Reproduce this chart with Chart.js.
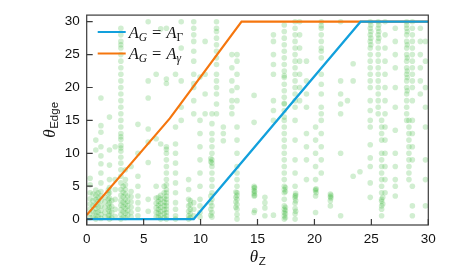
<!DOCTYPE html>
<html>
<head>
<meta charset="utf-8">
<script src="https://cdn.jsdelivr.net/npm/chart.js@4.4.1/dist/chart.umd.min.js"></script>
<style>
  html, body { margin: 0; padding: 0; background: #fff; }
  #wrap { width: 474px; height: 273px; }
</style>
</head>
<body>
<div id="wrap"><canvas id="chart" width="474" height="273"></canvas></div>
<script>
// tick labels
const xTicks = [0, 5, 10, 15, 20, 25, 30];
const yTicks = [0, 5, 10, 15, 20, 25, 30];

// A_G = A_Gamma (blue) and A_G = A_gamma (orange)
const blueX = [0, 9.4, 24.05, 30];
const blueY = [0, 0, 30, 30];
const orangeX = [0, 7.3, 13.6, 30];
const orangeY = [0.6, 15.3, 30, 30];

// green samples, grouped in vertical columns (x of column, then its y values)
const dotColumnX = [0.3, 0.8, 1.25, 1.6, 2.0, 2.5, 3.0, 3.4, 3.9, 4.5, 5.4, 6.1, 6.5, 7.0, 7.8, 8.3,
  8.95, 9.4, 9.95, 10.4, 11.0, 11.4, 12.0, 12.75, 13.2, 14.7, 15.65, 16.4, 17.35, 18.3, 18.7, 19.3,
  20.1, 20.6, 21.4, 22.3, 22.9, 23.4, 24.0, 24.9, 25.6, 25.9, 26.2, 27.1, 28.1, 28.3, 28.6, 29.3, 29.75];
const dotColumnY = [
  [0.2, 0.8, 1.5, 2.3, 3.1, 4.0, 5.2, 6.2],
  [0, 0.5, 1, 1.6, 2.2, 3, 3.6, 4.4, 10.5, 12],
  [0.1, 0.7, 1.3, 2, 2.8, 3.5, 4.2, 5.5, 7, 8.4, 9.6, 11, 13.2, 14.2, 18.4],
  [0.3, 1, 1.8, 2.6, 3.3],
  [0, 0.6, 1.2, 1.8, 2.5, 3.2, 4, 4.8, 6, 8.2, 10.5, 15.5],
  [0.4, 1.5, 3, 4.5, 6, 11],
  [0, 0.7, 1.4, 2.1, 2.8, 3.6, 4.5, 5.5, 6.5, 7.5, 8.5, 9.4, 10.3, 10.8, 11.2, 12.1, 12.5, 13, 14, 15,
   16, 17, 18, 19, 20, 21, 22, 23, 24, 25, 26, 26.5, 27, 28, 29],
  [0.2, 0.9, 1.6, 2.3, 3, 3.8, 4.5, 5.2, 6, 7.5],
  [0.3, 1, 1.8, 2.6, 3.4, 4.2, 8],
  [0.5, 1.5, 2.5, 3.5, 5, 6.5, 10, 14.4],
  [1.2, 3, 8.6, 11.7, 13.7, 18.4, 21, 30],
  [0.3, 1, 1.7, 2.4, 3.2, 5, 12.2, 22],
  [0, 0.6, 1.2, 1.8, 2.4, 3, 3.6, 11.4, 28.9],
  [0, 0.5, 1, 1.5, 2, 2.5, 3, 3.5, 4, 4.5, 5.2, 6, 7, 8, 9, 10, 10.6, 11, 20.6, 21.3, 29],
  [0, 0.5, 1.5, 2.5, 4, 5.5, 7, 8.5, 10, 11.4, 14, 22],
  [15, 17, 21, 26, 30],
  [0, 0.5, 1.2, 2, 3, 4.5, 6],
  [0.5, 1.5, 2.5, 16, 18, 20, 20.6, 22, 24, 25.5, 27, 28, 29, 30],
  [0.3, 1, 2, 3, 5, 7, 9, 11, 13, 15, 21.6],
  [16, 19, 22, 27],
  [0.3, 1, 2, 3, 4, 5, 6, 7, 8, 8.5, 9, 10, 11, 12, 13, 14.5, 16],
  [16, 17.5, 19, 20, 21, 22, 23.5, 24.5, 25.5, 26.5, 27.5, 28.5, 29, 30],
  [11.9, 13, 14],
  [16, 17, 18, 19.5, 21, 23, 25],
  [0, 0.7, 1.5, 2.2, 3, 3.6, 4, 5, 6, 7, 8, 10, 12, 14, 18, 20, 22, 24, 25],
  [1, 3.5, 3.9, 4.3, 4.7, 5, 14.7, 18.8],
  [0.5, 1.7, 2.5, 3.3],
  [0.6, 15, 16.5, 18, 22, 23.5, 25, 27, 28],
  [0, 0.5, 1, 1.5, 2, 3, 4, 4.5, 5, 6, 7, 8, 9, 10, 11, 12, 13, 14, 15, 15.5, 16.5, 17.5, 17.6, 18.5,
   19.5, 20.5, 21.5, 21.8, 22.5, 23.5, 24.5, 25.5, 26.5, 27.5, 28.5, 29.5],
  [0, 0.8, 1.6, 2.4, 3.2, 3.5, 5, 7, 9, 12, 15, 17, 18, 19, 20, 21, 22, 23, 24, 25, 26, 27, 28, 29, 30],
  [18, 20, 22, 24, 26, 28, 30],
  [6, 9, 11, 13, 17, 19, 21, 24],
  [1, 3.5, 4.3, 4.5, 6, 8, 10, 12, 14],
  [7, 9, 11, 13, 15, 16, 17, 19, 20.5, 22, 24.5, 25.5, 26, 27, 28, 29, 29.4, 30],
  [2, 2.8, 3.4, 3.8],
  [0.5, 10, 16, 17.5, 19, 21, 30],
  [18],
  [6.5, 21, 23.6],
  [7.2],
  [3.3, 5.5, 8, 9.3, 11.3, 14, 15, 16.5, 18, 20, 21, 22, 23, 24, 25, 26, 27, 28, 29, 30],
  [16, 17, 18, 19, 20, 21, 22, 23, 24, 25, 26, 27, 28, 29, 30],
  [0.5, 1.5, 2, 2.7, 3, 4, 5, 6, 7, 8, 9, 10, 12, 13, 14, 15],
  [4, 6, 8, 10, 12, 14, 16, 18, 20, 22, 24, 26, 28, 30],
  [3.5, 5, 6, 8, 10, 13.5, 17, 20, 23, 25, 27, 29],
  [15, 16, 17, 18, 19, 20, 21, 22, 23, 24, 25, 26, 27, 28, 29, 29.5, 30],
  [6, 7, 8, 9, 10, 11, 12, 13, 14, 15],
  [0.5, 2, 5, 9, 11, 13, 15, 18, 20, 21, 22, 23, 24, 25, 26, 27, 28, 29, 30],
  [19, 21, 23, 25, 27, 29],
  [2, 6, 9, 14, 17, 20, 24, 27]
];

// second pass of samples that sit in the darker clusters
const clusterX = [0.55, 1.0, 1.9, 2.2, 3.2, 3.6, 6.3, 6.8, 9.1, 10.9, 13.1, 14.75, 17.45, 18.35,
  20.15, 21.45, 26.0, 28.15, 24.95, 25.65];
const clusterY = [
  [0.3, 1.2, 2, 2.8, 3.8],
  [0.4, 1.1, 1.9, 2.7, 3.3, 4],
  [0.5, 1.4, 2.2, 3, 3.8, 4.4],
  [0.2, 1, 1.9, 2.8],
  [0.3, 1.1, 1.9, 2.6, 3.4, 4.1, 5],
  [0.6, 1.3, 2, 2.7, 3.5],
  [0.3, 0.9, 1.5, 2.1, 2.7, 3.3],
  [0.2, 0.8, 1.4, 2, 2.6, 3.2, 4, 5],
  [0.2, 0.8, 1.5, 2.2, 2.8],
  [0.6, 1.5, 2.5, 3.5, 8.7, 9.2],
  [1.8, 2.6, 3.3, 4.1],
  [1.3, 3.6, 4.2, 4.8],
  [0.2, 0.8, 1.3, 1.8, 4.2, 4.8],
  [1.2, 2.8, 3.6, 3.9],
  [4, 4.6],
  [3.2, 3.6],
  [2.3, 3.3],
  [19.5, 21.5, 22.5, 24.5, 26.5, 28.5],
  [26.5, 27.5, 28.5, 29.5],
  [27.5, 28.5, 29.5]
];

const BLUE = '#12a0dc';
const ORANGE = '#f5760e';
const DOT = 'rgba(40, 175, 40, 0.21)';
const FRAME = '#3a3a3a';

const dots = [];
dotColumnX.forEach((x, i) => dotColumnY[i].forEach(y => dots.push({ x, y })));
clusterX.forEach((x, i) => clusterY[i].forEach(y => dots.push({ x, y })));
const pts = (xs, ys) => xs.map((x, i) => ({ x, y: ys[i] }));

// frame, inward ticks, math legend and axis titles
const decor = {
  id: 'decor',
  afterDraw(c) {
    const ctx = c.ctx, a = c.chartArea, xs = c.scales.x, ys = c.scales.y;
    ctx.save();
    ctx.strokeStyle = FRAME;
    ctx.lineWidth = 1.2;
    ctx.strokeRect(a.left, a.top, a.right - a.left, a.bottom - a.top);
    ctx.beginPath();
    xTicks.forEach(v => {
      const p = xs.getPixelForValue(v);
      ctx.moveTo(p, a.bottom); ctx.lineTo(p, a.bottom - 6);
    });
    yTicks.forEach(v => {
      const p = ys.getPixelForValue(v);
      ctx.moveTo(a.left, p); ctx.lineTo(a.left + 6, p);
    });
    ctx.stroke();

    // legend
    const items = [[BLUE, '\u0393'], [ORANGE, '\u03b3']];
    items.forEach(([col, sub], i) => {
      const y = 32 + i * 21.5;
      ctx.strokeStyle = col;
      ctx.lineWidth = 2;
      ctx.beginPath(); ctx.moveTo(a.left + 11, y); ctx.lineTo(a.left + 39, y); ctx.stroke();
      ctx.fillStyle = '#111';
      ctx.textBaseline = 'alphabetic';
      let x = a.left + 42;
      const base = y + 5.5;
      ctx.font = 'italic 16.5px "Liberation Serif"';
      ctx.fillText('A', x, base); x += ctx.measureText('A').width;
      ctx.font = 'italic 11.5px "Liberation Serif"';
      ctx.fillText('G', x, base + 3); x += ctx.measureText('G').width + 5;
      ctx.font = '16.5px "Liberation Serif"';
      ctx.fillText('=', x, base); x += ctx.measureText('=').width + 5;
      ctx.font = 'italic 16.5px "Liberation Serif"';
      ctx.fillText('A', x, base); x += ctx.measureText('A').width;
      ctx.font = (sub === '\u03b3' ? 'italic ' : '') + '11.5px "Liberation Serif"';
      ctx.fillText(sub, x, base + 3);
    });

    // axis titles
    const title = (cx, cy, rot, main, sub) => {
      ctx.save();
      ctx.translate(cx, cy);
      ctx.rotate(rot);
      ctx.fillStyle = '#111';
      ctx.font = 'italic 17px "Liberation Serif"';
      const w1 = ctx.measureText(main).width;
      ctx.font = '11.5px "Liberation Sans"';
      const w2 = ctx.measureText(sub).width;
      let x = -(w1 + w2) / 2;
      ctx.textBaseline = 'alphabetic';
      ctx.font = 'italic 17px "Liberation Serif"';
      ctx.fillText(main, x, 5);
      ctx.font = '11.5px "Liberation Sans"';
      ctx.fillText(sub, x + w1 + 0.5, 8);
      ctx.restore();
    };
    title((a.left + a.right) / 2, 257, 0, '\u03b8', 'Z');
    title(50, (a.top + a.bottom) / 2, -Math.PI / 2, '\u03b8', 'Edge');
    ctx.restore();
  }
};

const tickFont = { family: '"Liberation Sans", Arial, sans-serif', size: 13.5 };

new Chart(document.getElementById('chart'), {
  type: 'scatter',
  data: {
    datasets: [
      { label: 'A_G = A_Gamma', data: pts(blueX, blueY), showLine: true, borderColor: BLUE,
        borderWidth: 2.2, pointRadius: 0, order: 1 },
      { label: 'A_G = A_gamma', data: pts(orangeX, orangeY), showLine: true, borderColor: ORANGE,
        borderWidth: 2.2, pointRadius: 0, order: 2 },
      { label: 'samples', data: dots, backgroundColor: DOT, borderWidth: 0,
        pointRadius: 2.8, order: 3 }
    ]
  },
  options: {
    responsive: false,
    animation: false,
    layout: { padding: { left: 0, top: 13, right: 45.7, bottom: 0 } },
    plugins: { legend: { display: false }, tooltip: { enabled: false } },
    scales: {
      x: {
        type: 'linear', min: 0, max: 30,
        afterBuildTicks: s => { s.ticks = xTicks.map(v => ({ value: v })); },
        afterFit: s => { s.height = 48; },
        grid: { display: false, drawTicks: false },
        border: { display: false },
        ticks: { color: '#111', font: tickFont, padding: 6, maxRotation: 0 }
      },
      y: {
        type: 'linear', min: -0.9, max: 31,
        afterBuildTicks: s => { s.ticks = yTicks.map(v => ({ value: v })); },
        afterFit: s => { s.width = 86.7; },
        grid: { display: false, drawTicks: false },
        border: { display: false },
        ticks: { color: '#111', font: tickFont, padding: 7 }
      }
    }
  },
  plugins: [decor]
});
</script>
</body>
</html>
